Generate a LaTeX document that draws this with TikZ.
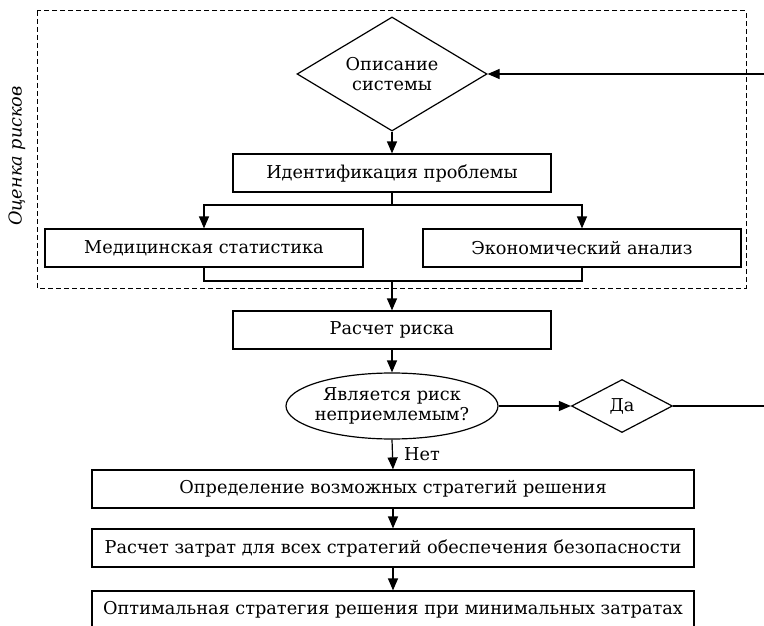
\documentclass[tikz,border=0pt]{standalone}
\usepackage{fontspec}
\setmainfont{DejaVu Serif}
\usetikzlibrary{shapes.geometric,arrows.meta}
\begin{document}
\begin{tikzpicture}[x=1pt,y=-1pt,
  font=\fontsize{17.7}{20.5}\selectfont,
  line width=1.2pt,
  >={Triangle[length=12pt,width=10pt]},
  procbox/.style={draw,rectangle,minimum height=38pt,inner sep=0pt,align=center},
  narrowbox/.style={procbox,minimum width=318pt},
  widebox/.style={procbox,minimum width=602pt},
  choice/.style={draw,diamond,inner sep=0pt,align=center},
  question/.style={draw,ellipse,inner ysep=0pt,inner xsep=-4pt,align=center,minimum width=212pt,minimum height=66pt},
  frame/.style={line width=1pt,dash pattern=on 5pt off 3pt}
]
\useasboundingbox (0,0) rectangle (764,626);
\draw[frame] (37,11) rectangle (746,288);
\node[rotate=90,font=\itshape\fontsize{17.7}{20.5}\selectfont] (lab) at (17,156) {Оценка рисков};

\node[choice,aspect=1.667,minimum width=190pt,minimum height=114pt] (d1) at (392,74) {Описание\\системы};
\node[narrowbox] (b1) at (392,173) {Идентификация проблемы};
\node[narrowbox] (b2) at (204,248) {Медицинская статистика};
\node[narrowbox] (b3) at (582,248) {Экономический анализ};
\node[narrowbox] (b4) at (392,330) {Расчет риска};
\node[question] (e1) at (392,406) {Является риск\\неприемлемым?};
\node[choice,aspect=1.9,minimum width=101pt,minimum height=53pt] (d2) at (622,406) {Да};
\node[widebox] (b5) at (393,489) {Определение возможных стратегий решения};
\node[widebox] (b6) at (393,548) {Расчет затрат для всех стратегий обеспечения безопасности};
\node[widebox] (b7) at (393,610) {Оптимальная стратегия решения при минимальных затратах};

\coordinate (loopin) at (780,74);
\coordinate (loopout) at (780,406);
\coordinate (split) at (392,205);
\coordinate (join) at (392,281);

\draw[->] (loopin) -- (d1.east);
\draw[->] (d1.south) -- (b1.north);
\draw (b1.south) -- (split);
\draw[->] (split) -| (b2.north);
\draw[->] (split) -| (b3.north);
\draw (b2.south) |- (join) -| (b3.south);
\draw[->] (join) -- (b4.north);
\draw[->] (b4.south) -- (e1.north);
\draw[->] (e1.east) -- (d2.west);
\draw (d2.east) -- (loopout);
\draw[->] (e1.south) -- node[right,inner sep=0pt,xshift=11pt] (net) {Нет} (b5.north);
\draw[->] (b5.south) -- (b6.north);
\draw[->] (b6.south) -- (b7.north);
\end{tikzpicture}
\end{document}
